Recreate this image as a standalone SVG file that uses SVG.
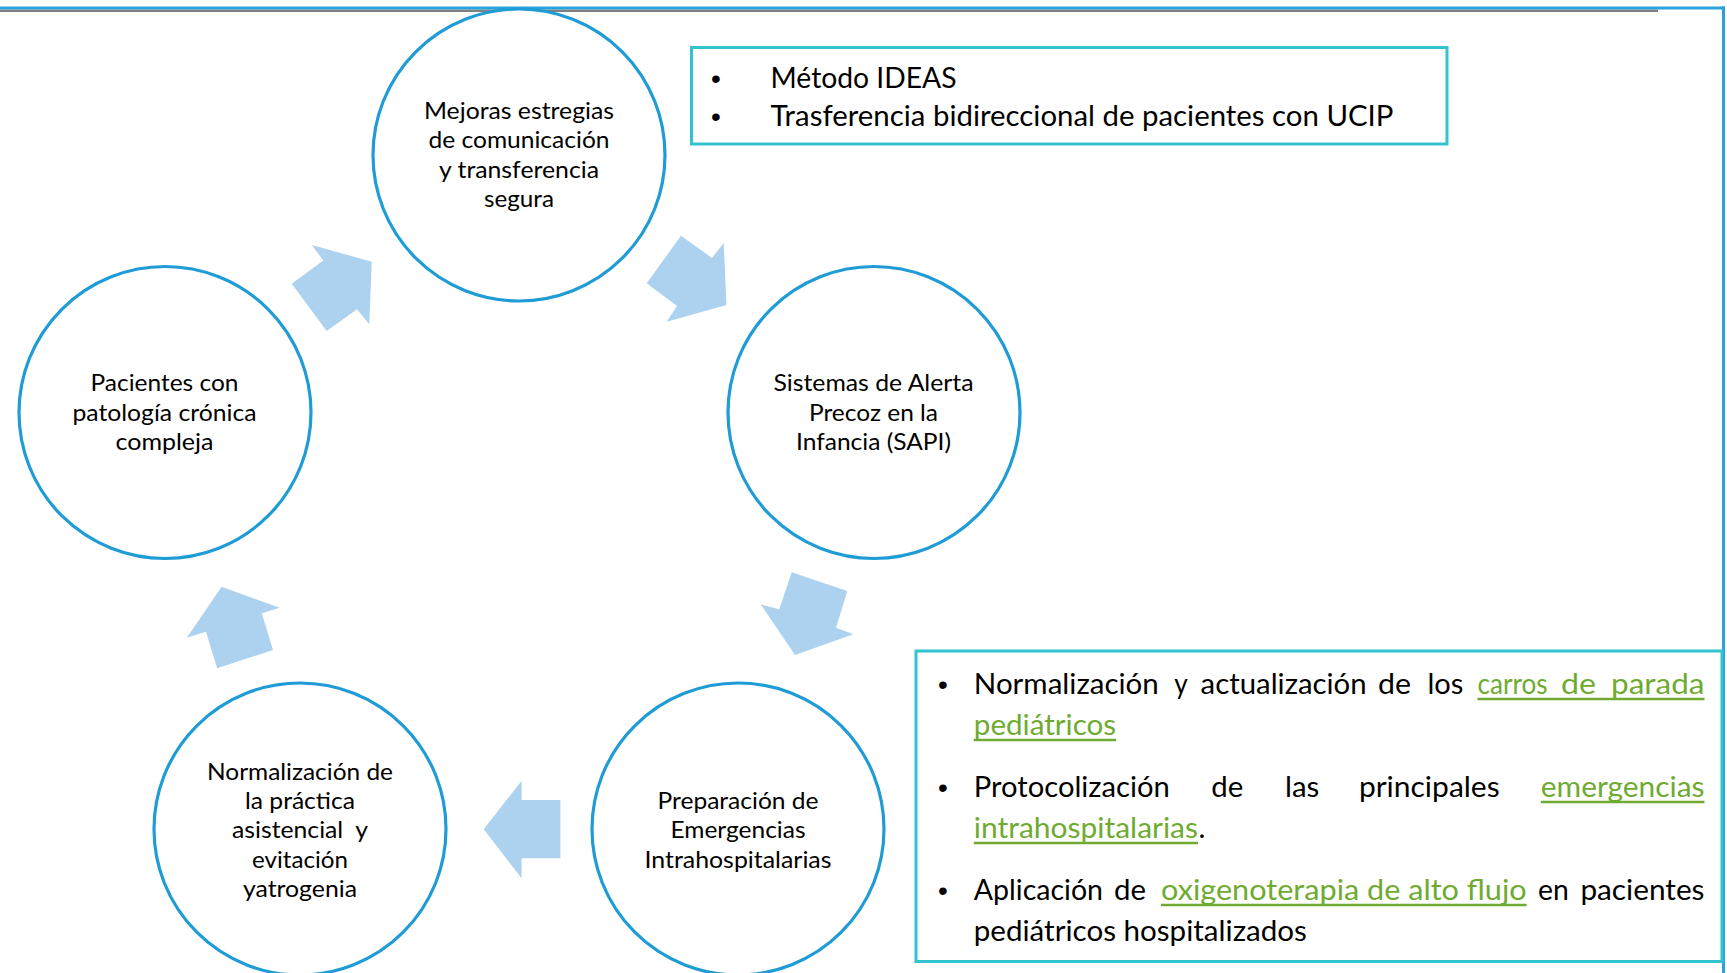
<svg xmlns="http://www.w3.org/2000/svg" width="1727" height="973" viewBox="0 0 1727 973">
<style>
.circ{fill:#fff;stroke:#1F9CD6;stroke-width:3.2}
.ct{font-family:Lato,"Liberation Sans",sans-serif;font-size:24px;fill:#000;text-anchor:middle}
.arr{fill:#ADD2EF}
.box{fill:#fff;stroke:#31C4CF;stroke-width:3}
.tb{font-family:Lato,"Liberation Sans",sans-serif;font-size:28px;fill:#000}
.bb{font-family:Lato,"Liberation Sans",sans-serif;font-size:29px;fill:#000}
.g{fill:#6EAB30}
.ul{stroke:#6EAB30;stroke-width:2.5}
.bul{font-family:"Liberation Sans",sans-serif;font-size:28px;fill:#000;text-anchor:middle}
</style>
<rect width="1727" height="973" fill="#fff"/>
<g id="frame">
<rect x="0" y="9.5" width="1658" height="2.5" fill="#808080"/>
<rect x="0" y="6.5" width="1725" height="3" fill="#29A3DC"/>
<rect x="1722" y="6.5" width="3" height="967" fill="#29A3DC"/>
</g>
<g id="connectors">
<polygon class="arr" points="311.7,245 323.3,260.5 291.7,283.8 326.7,331 357,309.2 369.3,324.3 371.7,261.7"/>
<polygon class="arr" points="681,235.8 712,258 723.7,243 726.5,305 666.7,321.7 677,306 646.7,283.3"/>
<polygon class="arr" points="791.7,572.3 847.3,591 836,627.7 853.3,634.3 795,655 760.7,604.3 779.3,609.3"/>
<polygon class="arr" points="521.6,780.7 521.6,800 560.4,800 560.4,858.3 521.6,858.3 521.6,878.3 483.7,829.3"/>
<polygon class="arr" points="221.6,586.7 279.6,607.7 261.8,613.3 273,650 217.1,668.3 206,631.7 186.8,637.7"/>
</g>
<g id="node-comunicacion">
<circle class="circ" cx="519" cy="155" r="146"/>
<text class="ct" x="519" y="119" textLength="190" lengthAdjust="spacingAndGlyphs">Mejoras estregias</text>
<text class="ct" x="519" y="148" textLength="181" lengthAdjust="spacingAndGlyphs">de comunicación</text>
<text class="ct" x="519" y="177.5" textLength="160" lengthAdjust="spacingAndGlyphs">y transferencia</text>
<text class="ct" x="519" y="206.5" textLength="70" lengthAdjust="spacingAndGlyphs">segura</text>
</g>
<g id="node-sapi">
<circle class="circ" cx="874" cy="412.5" r="146"/>
<text class="ct" x="873.5" y="391" textLength="200" lengthAdjust="spacingAndGlyphs">Sistemas de Alerta</text>
<text class="ct" x="873.5" y="421" textLength="129" lengthAdjust="spacingAndGlyphs">Precoz en la</text>
<text class="ct" x="873.5" y="450" textLength="155" lengthAdjust="spacingAndGlyphs">Infancia (SAPI)</text>
</g>
<g id="node-emergencias">
<circle class="circ" cx="738" cy="829" r="146"/>
<text class="ct" x="738" y="809" textLength="161" lengthAdjust="spacingAndGlyphs">Preparación de</text>
<text class="ct" x="738" y="838" textLength="135" lengthAdjust="spacingAndGlyphs">Emergencias</text>
<text class="ct" x="738" y="867.5" textLength="187" lengthAdjust="spacingAndGlyphs">Intrahospitalarias</text>
</g>
<g id="node-normalizacion">
<circle class="circ" cx="300" cy="829" r="146"/>
<text class="ct" x="300" y="779.5" textLength="186" lengthAdjust="spacingAndGlyphs">Normalización de</text>
<text class="ct" x="300" y="809" textLength="110" lengthAdjust="spacingAndGlyphs">la práctica</text>
<text class="ct" x="300" y="838" textLength="136" lengthAdjust="spacingAndGlyphs" xml:space="preserve">asistencial  y</text>
<text class="ct" x="300" y="867.5" textLength="96" lengthAdjust="spacingAndGlyphs">evitación</text>
<text class="ct" x="300" y="896.5" textLength="114" lengthAdjust="spacingAndGlyphs">yatrogenia</text>
</g>
<g id="node-cronica">
<circle class="circ" cx="165" cy="412.5" r="146"/>
<text class="ct" x="164.5" y="391" textLength="148" lengthAdjust="spacingAndGlyphs">Pacientes con</text>
<text class="ct" x="164.5" y="421" textLength="184" lengthAdjust="spacingAndGlyphs">patología crónica</text>
<text class="ct" x="164.5" y="450" textLength="98" lengthAdjust="spacingAndGlyphs">compleja</text>
</g>
<g id="box-ideas">
<rect class="box" x="691.5" y="47.5" width="755.5" height="96.5"/>
<text class="bul" x="716" y="88">•</text>
<text class="bul" x="716" y="125.5">•</text>
<text class="tb" x="770.5" y="88" textLength="186" lengthAdjust="spacingAndGlyphs">Método IDEAS</text>
<text class="tb" x="770.5" y="125.5" textLength="623" lengthAdjust="spacingAndGlyphs">Trasferencia bidireccional de pacientes con UCIP</text>
</g>
<g id="box-acciones">
<rect class="box" x="916" y="651" width="806" height="310.5"/>
<text class="bul" x="943" y="694">•</text>
<text class="bul" x="943" y="797">•</text>
<text class="bul" x="943" y="900">•</text>
<text class="bb" x="973.8" y="694" textLength="185" lengthAdjust="spacingAndGlyphs">Normalización</text>
<text class="bb" x="1174.3" y="694" textLength="13.5" lengthAdjust="spacingAndGlyphs">y</text>
<text class="bb" x="1200.6" y="694" textLength="166" lengthAdjust="spacingAndGlyphs">actualización</text>
<text class="bb" x="1378" y="694" textLength="33" lengthAdjust="spacingAndGlyphs">de</text>
<text class="bb" x="1427.4" y="694" textLength="36" lengthAdjust="spacingAndGlyphs">los</text>
<text class="bb g" x="1477.5" y="694" textLength="70" lengthAdjust="spacingAndGlyphs">carros</text>
<text class="bb g" x="1561" y="694" textLength="35" lengthAdjust="spacingAndGlyphs">de</text>
<text class="bb g" x="1611" y="694" textLength="93.5" lengthAdjust="spacingAndGlyphs">parada</text>
<line class="ul" x1="1477.5" y1="699" x2="1704.5" y2="699"/>
<text class="bb g" x="973.8" y="735" textLength="142.4" lengthAdjust="spacingAndGlyphs">pediátricos</text>
<line class="ul" x1="973.8" y1="740" x2="1116.2" y2="740"/>
<text class="bb" x="973.8" y="797" textLength="196" lengthAdjust="spacingAndGlyphs">Protocolización</text>
<text class="bb" x="1211.2" y="797" textLength="32" lengthAdjust="spacingAndGlyphs">de</text>
<text class="bb" x="1285" y="797" textLength="34.3" lengthAdjust="spacingAndGlyphs">las</text>
<text class="bb" x="1358.9" y="797" textLength="140.8" lengthAdjust="spacingAndGlyphs">principales</text>
<text class="bb g" x="1540.8" y="797" textLength="163.7" lengthAdjust="spacingAndGlyphs">emergencias</text>
<line class="ul" x1="1540.8" y1="802" x2="1704.5" y2="802"/>
<text class="bb" y="838"><tspan class="g" x="973.8" textLength="224.2" lengthAdjust="spacingAndGlyphs">intrahospitalarias</tspan><tspan x="1198.5">.</tspan></text>
<line class="ul" x1="973.8" y1="843" x2="1198" y2="843"/>
<text class="bb" x="973.8" y="900" textLength="129.2" lengthAdjust="spacingAndGlyphs">Aplicación</text>
<text class="bb" x="1114" y="900" textLength="32" lengthAdjust="spacingAndGlyphs">de</text>
<text class="bb g" x="1161" y="900" textLength="365.6" lengthAdjust="spacingAndGlyphs">oxigenoterapia de alto flujo</text>
<line class="ul" x1="1161" y1="905" x2="1526.6" y2="905"/>
<text class="bb" x="1538" y="900" textLength="30.8" lengthAdjust="spacingAndGlyphs">en</text>
<text class="bb" x="1580.4" y="900" textLength="124.1" lengthAdjust="spacingAndGlyphs">pacientes</text>
<text class="bb" x="973.8" y="941" textLength="333" lengthAdjust="spacingAndGlyphs">pediátricos hospitalizados</text>
</g>
</svg>
